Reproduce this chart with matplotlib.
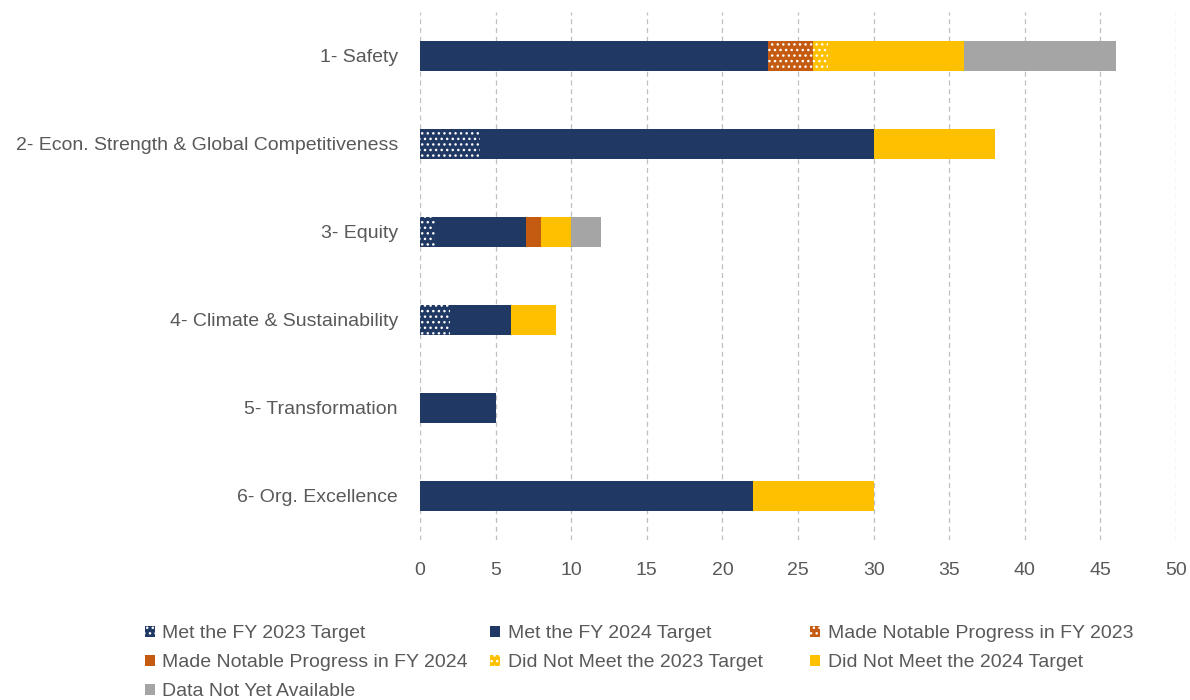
"""Stacked horizontal bars: performance measures by strategic goal."""

import matplotlib.pyplot as plt
from matplotlib.patches import Patch

plt.rcParams['font.family'] = ['Liberation Sans', 'DejaVu Sans']
plt.rcParams['hatch.linewidth'] = 1.0

goals = [
    "1- Safety",
    "2- Econ. Strength & Global Competitiveness",
    "3- Equity",
    "4- Climate & Sustainability",
    "5- Transformation",
    "6- Org. Excellence",
]

met_2023 = [0, 4, 1, 2, 0, 0]
met_2024 = [23, 26, 6, 4, 5, 22]
progress_2023 = [3, 0, 0, 0, 0, 0]
progress_2024 = [0, 0, 1, 0, 0, 0]
not_met_2023 = [1, 0, 0, 0, 0, 0]
not_met_2024 = [9, 8, 2, 3, 0, 8]
not_available = [10, 0, 2, 0, 0, 0]

series = [
    ("Met the FY 2023 Target", met_2023, '#203864', True),
    ("Met the FY 2024 Target", met_2024, '#203864', False),
    ("Made Notable Progress in FY 2023", progress_2023, '#C55A11', True),
    ("Made Notable Progress in FY 2024", progress_2024, '#C55A11', False),
    ("Did Not Meet the 2023 Target", not_met_2023, '#FFC000', True),
    ("Did Not Meet the 2024 Target", not_met_2024, '#FFC000', False),
    ("Data Not Yet Available", not_available, '#A5A5A5', False),
]

fig = plt.figure(figsize=(11.9, 7), dpi=100)
ax = fig.add_axes([420 / 1190, 160 / 700, 756 / 1190, 528 / 700])

left = [0] * len(goals)
handles = []
for label, vals, color, dotted in series:
    # skip zero-width segments so their hatch does not leak at bar ends
    idx = [i for i, v in enumerate(vals) if v > 0]
    ax.barh(idx, [vals[i] for i in idx], left=[left[i] for i in idx],
            height=0.34, color=color,
            edgecolor='white' if dotted else color,
            hatch='...' if dotted else None, linewidth=0)
    left = [a + b for a, b in zip(left, vals)]
    handles.append(Patch(facecolor=color, edgecolor='white' if dotted else color,
                         hatch='...' if dotted else None, linewidth=0, label=label))

ax.set_ylim(5.5, -0.5)
ax.set_xlim(0, 50)
ax.set_xticks(range(0, 51, 5))
ax.set_yticks(range(len(goals)))
ax.set_yticklabels(goals)
ax.tick_params(axis='both', length=0, labelsize=14, colors='#595959')
ax.tick_params(axis='x', pad=16)
ax.tick_params(axis='y', pad=16)
for spine in ax.spines.values():
    spine.set_visible(False)
ax.set_axisbelow(True)
ax.grid(axis='x', color='#BFBFBF', linestyle=(0, (4, 3)), linewidth=0.9)

# legend laid out as three fixed-width columns, read row by row
columns = [([0, 3, 6], 145), ([1, 4], 490), ([2, 5], 810)]
for members, xpix in columns:
    fig.legend([handles[i] for i in members], [handles[i].get_label() for i in members],
               loc='upper left', bbox_to_anchor=(xpix / 1190, 1 - 625 / 700),
               frameon=False, fontsize=14, labelcolor='#595959', borderpad=0,
               borderaxespad=0, handlelength=0.5, handleheight=0.5,
               handletextpad=0.4, labelspacing=0.63)

plt.savefig("out.png", dpi=100)
